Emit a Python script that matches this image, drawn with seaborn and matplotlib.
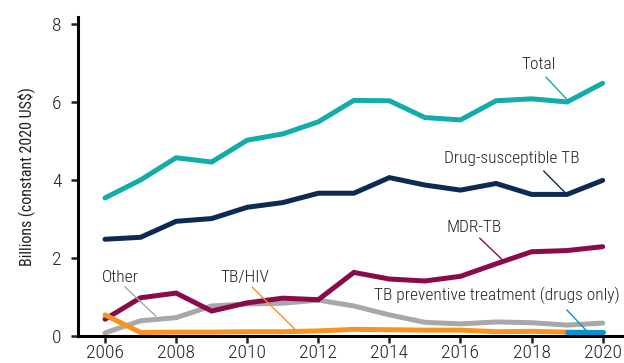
import matplotlib
matplotlib.use("Agg")
import matplotlib.pyplot as plt
from matplotlib import font_manager
import seaborn as sns
import pandas as pd

sns.set_style("ticks")

# Prefer a narrow sans face for the labels
_fonts = font_manager.fontManager.ttflist
_names = {f.name for f in _fonts}
family = "DejaVu Sans"
stretch = "normal"
for cand in ["Roboto Condensed", "Liberation Sans Narrow", "Open Sans Condensed", "Noto Sans Condensed"]:
    if cand in _names:
        family = cand
        break
else:
    for f in _fonts:
        if f.stretch in ("condensed", "semi-condensed") and "Sans" in f.name and "Mono" not in f.name:
            family = f.name
            stretch = f.stretch
            break
plt.rcParams["font.family"] = [family, "DejaVu Sans"]
plt.rcParams["font.stretch"] = stretch
plt.rcParams["font.weight"] = "light"

years = list(range(2006, 2021))

total = [3.54, 4.00, 4.57, 4.46, 5.02, 5.18, 5.49, 6.04, 6.03, 5.60, 5.54, 6.03, 6.08, 6.00, 6.48]
drug_susceptible = [2.48, 2.53, 2.94, 3.01, 3.30, 3.42, 3.66, 3.66, 4.06, 3.87, 3.74, 3.91, 3.63, 3.63, 3.99]
mdr_tb = [0.43, 0.98, 1.10, 0.64, 0.85, 0.97, 0.93, 1.63, 1.46, 1.41, 1.53, 1.85, 2.16, 2.19, 2.29]
other = [0.08, 0.39, 0.47, 0.77, 0.82, 0.84, 0.92, 0.77, 0.54, 0.35, 0.31, 0.36, 0.34, 0.28, 0.33]
tb_hiv = [0.54, 0.09, 0.10, 0.10, 0.11, 0.11, 0.13, 0.17, 0.16, 0.15, 0.15, 0.11, 0.12, 0.10, 0.09]
tpt_years = [2019, 2020]
tpt = [0.10, 0.10]

series = ["Total", "Drug-susceptible TB", "Other", "MDR-TB", "TB/HIV"]
values = [total, drug_susceptible, other, mdr_tb, tb_hiv]
colors = {
    "Total": "#12ADAB",
    "Drug-susceptible TB": "#0C2A52",
    "Other": "#A8A8A8",
    "MDR-TB": "#8A0A4C",
    "TB/HIV": "#F7941D",
    "TB preventive treatment (drugs only)": "#0A91D2",
}

rows = []
for name, vals in zip(series, values):
    for y, v in zip(years, vals):
        rows.append({"year": y, "value": v, "series": name})
for y, v in zip(tpt_years, tpt):
    rows.append({"year": y, "value": v, "series": "TB preventive treatment (drugs only)"})
df = pd.DataFrame(rows)

fig = plt.figure(figsize=(6.24, 3.63), dpi=100)
ax = fig.add_axes([0.125, 0.0744, 0.875, 0.879])

for name in series + ["TB preventive treatment (drugs only)"]:
    sub = df[df["series"] == name]
    sns.lineplot(data=sub, x="year", y="value", ax=ax, color=colors[name],
                 linewidth=3.6, solid_capstyle="round", solid_joinstyle="miter",
                 legend=False)

ax.set_xlim(2005.24, 2020.6)
ax.set_ylim(0, 8.18)
ax.set_xticks(list(range(2006, 2021, 2)))
ax.set_yticks([0, 2, 4, 6, 8])
ax.set_xlabel("")
ax.set_ylabel("Billions (constant 2020 US$)", fontsize=11.5, color="#222222", labelpad=12)
ax.tick_params(axis="both", labelsize=14, colors="#222222", length=5, width=1.8,
               direction="out")
ax.tick_params(axis="x", pad=1)
ax.tick_params(axis="y", pad=7)
for side in ["left", "bottom"]:
    ax.spines[side].set_linewidth(2.2)
    ax.spines[side].set_color("black")
sns.despine(ax=ax)

labels = [
    ("Total", (2018.2, 6.97), (2018.4, 6.64), (2019.0, 6.06), colors["Total"]),
    ("Drug-susceptible TB", (2017.44, 4.56), (2018.34, 4.23), (2018.97, 3.65), colors["Drug-susceptible TB"]),
    ("MDR-TB", (2016.37, 2.79), (2016.54, 2.51), (2017.16, 1.97), colors["MDR-TB"]),
    ("TB preventive treatment (drugs only)", (2017.02, 1.03), (2018.99, 0.67), (2019.55, 0.13), colors["TB preventive treatment (drugs only)"]),
    ("Other", (2006.42, 1.49), (2006.56, 1.26), (2007.43, 0.51), colors["Other"]),
    ("TB/HIV", (2009.94, 1.49), (2010.13, 1.26), (2011.37, 0.15), colors["TB/HIV"]),
]
for text, pos, start, end, col in labels:
    ax.text(pos[0], pos[1], text, ha="center", va="center", fontsize=12.5, color="#222222")
    ax.plot([start[0], end[0]], [start[1], end[1]], color=col, linewidth=1.0)

fig.savefig("out.png", dpi=100)
